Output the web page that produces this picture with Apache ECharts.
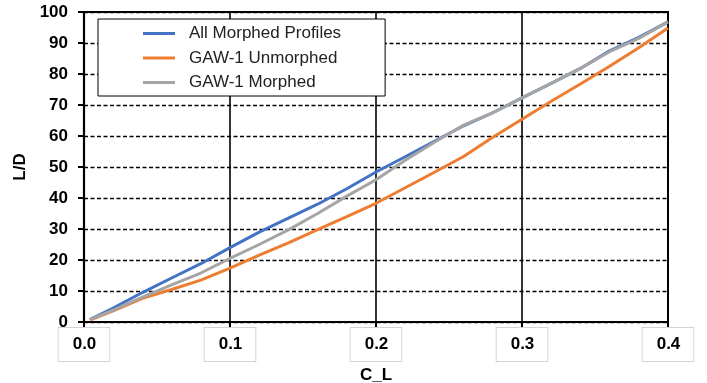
<!DOCTYPE html>
<html>
<head>
<meta charset="utf-8">
<script src="https://cdn.jsdelivr.net/npm/echarts@6/dist/echarts.min.js"></script>
<style>
  html, body { margin: 0; padding: 0; background: #fff; }
  #chart { width: 707px; height: 383px; }
</style>
</head>
<body>
<div id="chart"></div>
<script>
// Lift coefficient sample points shared by all three curves
const liftCoeff = [0.004, 0.02, 0.04, 0.06, 0.08, 0.1, 0.12, 0.14, 0.16, 0.18, 0.2,
                   0.22, 0.24, 0.26, 0.28, 0.3, 0.32, 0.34, 0.36, 0.38, 0.4];

// Lift-to-drag ratio for each configuration
const allMorphed   = [0.8, 4.5, 9.5, 14.2, 18.8, 24.0, 29.0, 33.5, 38.0, 43.0, 48.4,
                      53.3, 58.3, 63.3, 67.5, 72.3, 77.0, 81.8, 87.5, 91.8, 96.8];
const gawUnmorphed = [0.6, 3.6, 7.6, 10.5, 13.5, 17.4, 21.6, 25.5, 29.8, 34.0, 38.3,
                      43.3, 48.3, 53.4, 59.6, 65.4, 71.2, 76.8, 82.5, 88.5, 94.8];
const gawMorphed   = [0.8, 3.8, 8.0, 12.0, 15.8, 20.5, 25.0, 29.7, 35.0, 40.6, 45.9,
                      52.2, 58.0, 63.5, 67.5, 72.3, 77.0, 81.8, 87.2, 91.5, 96.8];

const seriesNames = ['All Morphed Profiles', 'GAW-1 Unmorphed', 'GAW-1 Morphed'];
const seriesColors = ['#4472C4', '#ED7D31', '#A5A5A5'];
const seriesValues = [allMorphed, gawUnmorphed, gawMorphed];

const xTicks = { min: 0, max: 0.4, interval: 0.1 };
const yTicks = { min: 0, max: 100, interval: 10 };

const font = '"Liberation Sans", Arial, sans-serif';

const chart = echarts.init(document.getElementById('chart'), null, { renderer: 'canvas' });

chart.setOption({
  animation: false,
  backgroundColor: '#fff',
  grid: {
    left: 84, right: 39, top: 12, bottom: 61,
    outerBoundsMode: 'none',
    containLabel: false,
    show: true, borderColor: '#000', borderWidth: 2, backgroundColor: 'transparent'
  },
  legend: {
    data: seriesNames,
    orient: 'vertical',
    left: 98, top: 19,
    padding: [6, 44, 5, 45],
    itemGap: 7.5,
    itemWidth: 32, itemHeight: 3,
    icon: 'rect',
    backgroundColor: '#fff',
    borderColor: '#000', borderWidth: 1, borderRadius: 0,
    textStyle: { fontFamily: font, fontSize: 17, lineHeight: 17, color: '#222', padding: [0, 0, 0, 9] }
  },
  xAxis: {
    type: 'value',
    min: xTicks.min, max: xTicks.max, interval: xTicks.interval,
    name: 'C_L', nameLocation: 'middle', nameGap: 39,
    nameTextStyle: { fontFamily: font, fontSize: 17, fontWeight: 'bold', color: '#000' },
    axisLine: { show: true, lineStyle: { color: '#000', width: 2.2 } },
    axisTick: { show: true, length: 5, lineStyle: { color: '#000', width: 2 } },
    axisLabel: {
      fontFamily: font, fontSize: 17, fontWeight: 'bold', color: '#000',
      margin: 6,
      formatter: v => v.toFixed(1),
      borderColor: '#d4d4d4', borderWidth: 1,
      padding: [8, 13, 8, 14],
      backgroundColor: '#fff'
    },
    splitLine: { show: true, lineStyle: { color: '#000', width: 1.6, type: 'solid' } }
  },
  yAxis: {
    type: 'value',
    min: yTicks.min, max: yTicks.max, interval: yTicks.interval,
    name: 'L/D', nameLocation: 'middle', nameGap: 51, nameRotate: 90,
    nameTextStyle: { fontFamily: font, fontSize: 17, fontWeight: 'bold', color: '#000' },
    axisLine: { show: true, lineStyle: { color: '#000', width: 2.2 } },
    axisTick: { show: true, length: 6, lineStyle: { color: '#000', width: 2 } },
    axisLabel: { fontFamily: font, fontSize: 17, fontWeight: 'bold', color: '#000', margin: 16 },
    splitLine: { show: true, lineStyle: { color: '#000', width: 1.3, type: [4, 2.5] } }
  },
  series: seriesNames.map((name, i) => ({
    name,
    type: 'line',
    data: liftCoeff.map((c, k) => [c, seriesValues[i][k]]),
    showSymbol: false,
    symbol: 'none',
    color: seriesColors[i],
    lineStyle: { color: seriesColors[i], width: 3 },
    z: 3 + (i === 2 ? 1 : 0)
  }))
});
</script>
</body>
</html>
